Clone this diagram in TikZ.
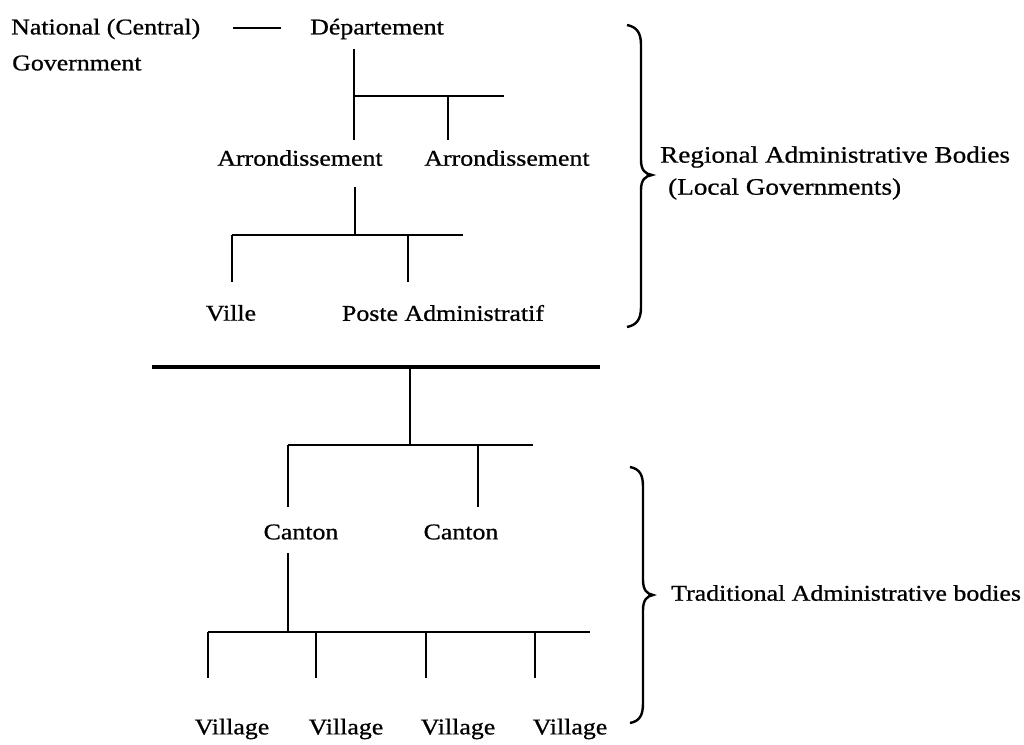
\documentclass[tikz,border=0pt]{standalone}
\usepackage{fontspec}
\setmainfont{Liberation Serif}[FakeStretch=1.15,FakeBold=0.8]
\begin{document}
\begin{tikzpicture}[x=1pt,y=-1pt,
  lbl/.style={inner sep=0pt,font=\fontsize{22.5}{27}\selectfont},
  biglbl/.style={inner sep=0pt,font=\fontsize{23.6}{27}\selectfont},
  ln/.style={line width=2pt,line cap=butt},
  vln/.style={line width=2.6pt,line cap=butt},
  thickln/.style={line width=3.4pt},
  brc/.style={line width=2.4pt}]
\useasboundingbox (0,0) rectangle (1024,744);
% labels
\node[lbl,anchor=west] (nat) at (11,29) {National (Central)};
\node[lbl,anchor=west] (gov) at (12,63) {Government};
\node[lbl] (dep) at (377,29) {Département};
\node[lbl] (arrL) at (300,158) {Arrondissement};
\node[lbl] (arrR) at (507,158) {Arrondissement};
\node[lbl] (ville) at (231,313) {Ville};
\node[lbl] (poste) at (443,313) {Poste Administratif};
\node[biglbl,anchor=west] (reg) at (660,157) {Regional Administrative Bodies};
\node[biglbl,anchor=west] (loc) at (668,189) {(Local Governments)};
\node[lbl] (canL) at (301,532) {Canton};
\node[lbl] (canR) at (461,532) {Canton};
\node[lbl] (vil1) at (232,729) {Village};
\node[lbl] (vil2) at (346,729) {Village};
\node[lbl] (vil3) at (458,729) {Village};
\node[lbl] (vil4) at (570,729) {Village};
\node[lbl,anchor=west] (trad) at (671,593) {Traditional Administrative bodies};
% junction coordinates
\coordinate (dashA) at (233,28);
\coordinate (dashB) at (281,28);
\coordinate (depB) at (354,49);
\coordinate (j1) at (354,96);
\coordinate (j1e) at (504,96);
\coordinate (j1r) at (448,96);
\coordinate (arrLt) at (354,140);
\coordinate (arrRt) at (448,140);
\coordinate (arrLb) at (355,187);
\coordinate (j2) at (355,235);
\coordinate (j2l) at (232,235);
\coordinate (j2e) at (463,235);
\coordinate (j2r) at (408,235);
\coordinate (villet) at (232,282);
\coordinate (postet) at (408,282);
\coordinate (barL) at (152,367);
\coordinate (barR) at (600,367);
\coordinate (barM) at (410,367);
\coordinate (j3) at (410,445);
\coordinate (j3l) at (288,445);
\coordinate (j3e) at (533,445);
\coordinate (j3r) at (478,445);
\coordinate (canLt) at (288,507);
\coordinate (canRt) at (478,507);
\coordinate (canLb) at (288,553);
\coordinate (j4) at (288,632);
\coordinate (j4l) at (208,632);
\coordinate (j4e) at (590,632);
\coordinate (v1) at (208,632);
\coordinate (v2) at (316,632);
\coordinate (v3) at (426,632);
\coordinate (v4) at (535,632);
% connectors
\draw[ln] (dashA) -- (dashB);
\draw[vln] (depB) -- (arrLt);
\draw[ln] (j1) -- (j1e);
\draw[vln] (j1r) -- (arrRt);
\draw[vln] (arrLb) -- (j2);
\draw[ln] (j2l) -- (j2e);
\draw[vln] (j2l) -- (villet);
\draw[vln] (j2r) -- (postet);
\draw[thickln] (barL) -- (barR);
\draw[vln] (barM) -- (j3);
\draw[ln] (j3l) -- (j3e);
\draw[vln] (j3l) -- (canLt);
\draw[vln] (j3r) -- (canRt);
\draw[vln] (canLb) -- (j4);
\draw[ln] (j4l) -- (j4e);
\foreach \v in {v1,v2,v3,v4} \draw[vln] (\v) -- ++(0,46);
% braces
\draw[brc] (627,25) .. controls (637,27) and (641,33) .. (641,45) -- (641,160)
  .. controls (641,170) and (645,174) .. (652,175)
  .. controls (645,176) and (641,180) .. (641,190) -- (641,307)
  .. controls (641,319) and (637,325) .. (627,327);
\draw[brc] (630,467) .. controls (640,469) and (643,475) .. (643,487) -- (643,580)
  .. controls (643,590) and (647,594) .. (653,595)
  .. controls (647,596) and (643,600) .. (643,610) -- (643,703)
  .. controls (643,715) and (640,721) .. (630,723);
\end{tikzpicture}
\end{document}
